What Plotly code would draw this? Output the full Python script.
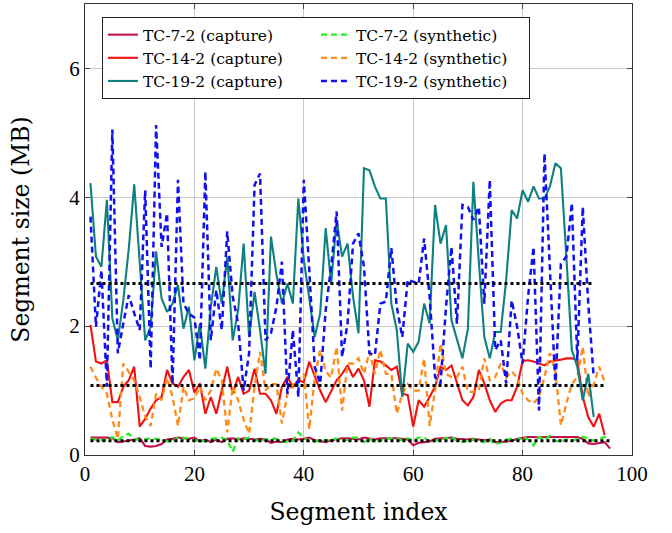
import plotly.graph_objects as go

# ---- data (segment sizes in MB) ----
tc7_capture = [0.27,0.27,0.28,0.27,0.26,0.20,0.21,0.22,0.24,0.26,0.14,0.13,0.14,0.17,0.24,0.25,0.27,0.26,0.25,0.27,
               0.21,0.24,0.20,0.24,0.20,0.25,0.26,0.24,0.26,0.25,0.24,0.25,0.24,0.19,0.21,0.20,0.24,0.25,0.24,0.25,
               0.27,0.23,0.21,0.20,0.23,0.25,0.26,0.26,0.25,0.24,0.27,0.26,0.24,0.26,0.26,0.27,0.26,0.25,0.24,0.15,
               0.19,0.20,0.21,0.25,0.26,0.27,0.27,0.25,0.24,0.24,0.25,0.24,0.23,0.24,0.20,0.20,0.21,0.22,0.25,0.27,
               0.28,0.28,0.27,0.28,0.28,0.29,0.29,0.29,0.29,0.28,0.25,0.18,0.17,0.18,0.20,0.10]
tc7_synthetic = [0.25,0.24,0.23,0.24,0.28,0.22,0.30,0.33,0.25,0.23,0.24,0.26,0.25,0.24,0.21,0.21,0.27,0.27,0.25,0.22,
                 0.23,0.21,0.25,0.26,0.27,0.23,0.05,0.26,0.24,0.27,0.23,0.22,0.24,0.26,0.25,0.21,0.20,0.22,0.35,0.27,
                 0.21,0.20,0.24,0.22,0.25,0.25,0.23,0.23,0.27,0.27,0.20,0.26,0.19,0.23,0.25,0.26,0.25,0.23,0.26,0.22,
                 0.27,0.27,0.20,0.22,0.25,0.26,0.28,0.22,0.20,0.22,0.24,0.24,0.20,0.25,0.16,0.20,0.24,0.25,0.23,0.28,
                 0.24,0.15,0.28,0.23,0.30,0.22,0.21,0.24,0.22,0.25,0.28,0.26,0.22,0.25,0.28,0.25]
tc14_capture = [2.02,1.45,1.42,1.47,0.82,0.82,1.06,1.16,1.37,0.44,0.56,0.72,0.85,0.90,1.32,1.11,1.06,1.21,1.32,0.97,
                1.11,0.64,0.90,0.64,1.00,1.37,0.95,1.21,0.95,1.00,1.34,0.95,0.95,0.85,0.64,1.06,1.21,1.06,1.16,1.13,
                1.45,1.21,1.00,0.82,1.00,1.16,1.26,1.39,1.21,1.34,1.16,0.75,1.47,1.45,1.39,1.32,1.37,0.95,0.93,0.44,
                0.85,0.75,0.90,1.06,1.37,1.32,1.39,1.11,0.85,0.77,0.90,1.32,1.11,0.85,0.67,0.80,0.85,0.85,1.06,1.46,
                1.47,1.45,1.42,1.39,1.45,1.46,1.48,1.50,1.50,1.47,0.90,0.59,0.44,0.64,0.31]
tc14_synthetic = [1.37,1.20,1.06,0.95,0.55,0.25,1.42,1.30,1.16,0.90,0.60,0.45,0.95,0.85,1.20,0.90,0.45,1.06,0.85,0.88,
                  1.06,0.85,1.00,1.34,1.16,0.35,1.06,0.85,0.55,0.33,1.06,1.60,1.00,1.10,1.10,0.49,0.95,1.10,1.15,1.26,
                  0.40,1.20,1.63,1.30,1.20,1.68,0.69,1.42,1.42,1.50,1.26,1.60,1.26,1.63,1.26,1.26,0.64,0.95,1.10,1.00,
                  1.00,1.50,0.45,1.00,1.73,1.26,1.21,1.21,1.37,0.98,0.98,1.00,1.50,1.16,1.21,1.42,1.20,1.30,1.20,0.95,
                  0.85,0.80,0.90,1.21,1.58,1.30,0.46,0.80,1.10,1.21,1.68,0.90,1.10,1.37,1.13]
tc19_capture = [4.22,3.08,2.92,3.96,2.12,1.78,2.40,3.20,4.20,3.03,1.78,1.99,3.16,2.43,2.22,2.35,2.64,1.96,2.30,1.47,
                2.04,1.34,2.30,2.92,2.35,3.08,1.78,2.25,3.28,1.83,2.53,1.94,1.26,3.39,2.80,2.35,2.66,2.35,3.98,3.03,
                2.46,1.83,2.20,3.52,2.66,3.65,3.08,3.28,2.46,1.89,4.45,4.42,4.17,3.98,3.98,2.35,1.94,0.90,1.73,1.60,
                1.76,2.35,2.04,3.88,3.28,3.57,2.09,1.78,1.50,1.96,4.24,3.00,1.83,1.50,1.91,1.91,2.72,3.80,3.67,4.11,
                3.93,4.17,3.98,3.98,4.17,4.53,4.45,3.08,1.63,1.37,0.85,1.26,0.59]
tc19_synthetic = [3.70,1.99,2.87,1.06,5.05,1.58,2.04,2.48,2.20,1.94,4.11,1.34,5.12,3.23,3.75,1.10,4.27,2.35,2.20,2.13,
                  1.47,4.40,1.78,2.56,1.94,3.47,2.46,2.04,1.00,1.58,4.19,4.37,1.78,1.89,2.30,3.00,0.95,1.94,0.90,4.27,
                  2.87,1.37,1.11,2.25,2.92,3.78,1.52,2.04,3.28,3.44,2.92,1.58,1.55,2.35,2.38,3.21,2.30,1.83,2.72,2.69,
                  2.66,3.36,2.46,1.21,1.11,2.30,3.23,2.04,3.88,3.85,3.65,3.85,2.35,4.27,1.63,1.78,1.11,2.40,1.99,1.42,
                  2.46,3.23,0.69,4.68,2.92,1.06,2.97,3.08,3.91,1.47,3.85,2.35,1.21]
mean_tc7 = 0.22
mean_tc14 = 1.08
mean_tc19 = 2.66

x_ticks = [0, 20, 40, 60, 80, 100]
y_ticks = [0, 2, 4, 6]

FONT = "DejaVu Serif"
TICKFONT = "Liberation Serif"

def idx(values):
    return list(range(1, len(values) + 1))

fig = go.Figure()

series = [
    ("TC-7-2 (capture)", tc7_capture, "#C2104A", "solid", 2.1),
    ("TC-7-2 (synthetic)", tc7_synthetic, "#22EE22", "6px,4px", 2.3),
    ("TC-14-2 (capture)", tc14_capture, "#F21010", "solid", 2.1),
    ("TC-14-2 (synthetic)", tc14_synthetic, "#FF8C1A", "6px,4px", 2.3),
    ("TC-19-2 (capture)", tc19_capture, "#0E8080", "solid", 2.1),
    ("TC-19-2 (synthetic)", tc19_synthetic, "#1010F0", "6px,4px", 2.5),
]

for name, vals, color, dash, w in series:
    fig.add_trace(go.Scatter(
        x=idx(vals), y=vals, mode="lines", name=name,
        line=dict(color=color, width=w, dash=dash),
    ))

for m, vals in [(mean_tc19, tc19_capture), (mean_tc14, tc14_capture), (mean_tc7, tc7_capture)]:
    fig.add_trace(go.Scatter(
        x=[1, len(vals)], y=[m, m], mode="lines", showlegend=False,
        line=dict(color="black", width=3, dash="3px,3px"), hoverinfo="skip",
    ))

axis_common = dict(
    showline=True, linecolor="#333333", linewidth=1.2, mirror="ticks",
    ticks="inside", ticklen=5, tickcolor="#444444",
    showgrid=True, gridcolor="#C8C8C8", gridwidth=1, zeroline=False,
    automargin=False,
    tickfont=dict(family=TICKFONT, size=21, color="black"),
)

fig.update_layout(
    width=672, height=533,
    margin=dict(l=85, r=40, t=4, b=78),
    paper_bgcolor="white", plot_bgcolor="white",
    font=dict(family=FONT, color="black"),
    xaxis=dict(range=[0, 100], tickvals=x_ticks,
               title=dict(text="Segment index", font=dict(family=FONT, size=23.5), standoff=18),
               **axis_common),
    yaxis=dict(range=[0, 7], tickvals=y_ticks,
               title=dict(text="Segment size (MB)", font=dict(family=FONT, size=23.5), standoff=32),
               **axis_common),
    legend=dict(
        orientation="h", x=0.031, y=0.971, xanchor="left", yanchor="top",
        bgcolor="white", bordercolor="#222222", borderwidth=1,
        font=dict(family=FONT, size=15.5),
        entrywidth=168, entrywidthmode="pixels",
        tracegroupgap=0, itemwidth=30,
    ),
    showlegend=True,
)

fig.write_html(
    "out.html",
    config={"displayModeBar": False},
    post_script="document.body.style.margin='0';document.body.style.overflow='hidden';",
)
